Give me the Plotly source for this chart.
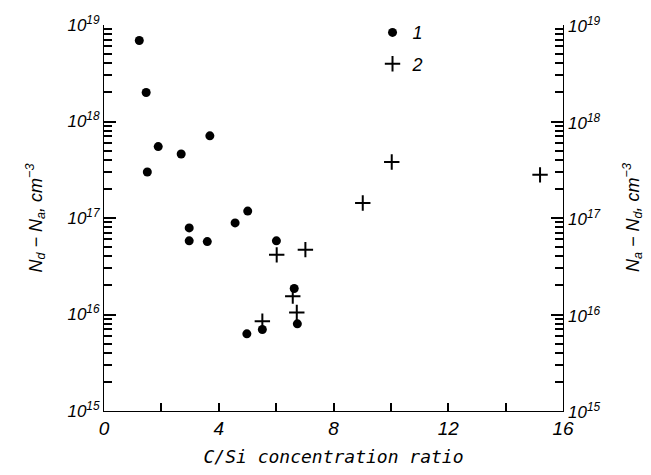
import math
import plotly.graph_objects as go

# Series 1 (filled dots): C/Si ratio vs Nd - Na
s1_x = [1.23, 1.47, 3.69, 1.89, 2.69, 1.51, 2.97, 2.97, 3.60, 4.57, 5.01, 6.01, 6.63, 6.74, 5.52, 4.98]
s1_y = [6.9e18, 2.0e18, 7.1e17, 5.5e17, 4.6e17, 3.0e17, 7.9e16, 5.8e16, 5.7e16, 8.9e16,
        1.18e17, 5.8e16, 1.86e16, 8.0e15, 7.0e15, 6.3e15]

# Series 2 (crosses): C/Si ratio vs Na - Nd
s2_x = [6.02, 7.02, 6.58, 6.72, 5.52, 9.02, 10.03, 15.2]
s2_y = [4.15e16, 4.7e16, 1.55e16, 1.05e16, 8.5e15, 1.43e17, 3.8e17, 2.8e17]

series_names = ["<i>1</i>", "<i>2</i>"]

x_tickvals = [0, 2, 4, 6, 8, 10, 12, 14, 16]
x_ticktext = ["<i>0</i>", "", "<i>4</i>", "", "<i>8</i>", "", "<i>12</i>", "", "<i>16</i>"]

y_major = [1e15, 1e16, 1e17, 1e18, 1e19]
y_major_text = ["<i>10<sup>15</sup></i>", "<i>10<sup>16</sup></i>", "<i>10<sup>17</sup></i>",
                "<i>10<sup>18</sup></i>", "<i>10<sup>19</sup></i>"]

FONT = "Liberation Sans"
MONO = "DejaVu Sans Mono"

fig = go.Figure()
fig.add_trace(go.Scatter(
    x=s1_x, y=s1_y, mode="markers", name=series_names[0],
    marker=dict(symbol="circle", size=9, color="black"),
    legendgroup="a",
))
fig.add_trace(go.Scatter(
    x=s2_x, y=s2_y, mode="markers", name=series_names[1],
    marker=dict(symbol="cross-thin", size=11, color="black",
                line=dict(color="black", width=2)),
    legendgroup="b",
))

# right-hand tick labels (mirror of the left axis)
annotations = [
    dict(x=1, xref="paper", y=math.log10(v), yref="y", text=t, showarrow=False,
         xanchor="left", yanchor="middle", xshift=3,
         font=dict(family=FONT, size=17, color="black"))
    for v, t in zip(y_major, y_major_text)
]
annotations.append(dict(
    x=1, xref="paper", y=0.5, yref="paper",
    text="<i>N<sub>a</sub> − N<sub>d</sub>, cm<sup>−3</sup></i>",
    showarrow=False, textangle=-90, xanchor="center", yanchor="middle", xshift=69,
    font=dict(family=FONT, size=18, color="black"),
))

fig.update_layout(
    width=651, height=475,
    margin=dict(l=104, r=88, t=25, b=62),
    plot_bgcolor="white",
    showlegend=True,
    legend=dict(
        x=0.585, y=1.028, xanchor="left", yanchor="top",
        bgcolor="rgba(0,0,0,0)",
        font=dict(family=FONT, size=18, color="black"),
        itemwidth=30, tracegroupgap=5, traceorder="grouped",
    ),
    xaxis=dict(
        range=[0, 16], tickmode="array", tickvals=x_tickvals, ticktext=x_ticktext,
        showline=True, linecolor="black",
        gridcolor="rgba(0,0,0,0)", zerolinecolor="rgba(0,0,0,0)",
        ticks="inside", ticklen=8, tickwidth=2, tickcolor="black",
        tickfont=dict(family=FONT, size=19, color="black"),
        title=dict(text="<i>C/Si concentration ratio</i>", standoff=12,
                   font=dict(family=MONO, size=18, color="black")),
    ),
    yaxis=dict(
        type="log", range=[15, 19], tickmode="array", tickvals=y_major, ticktext=y_major_text,
        showline=True, linecolor="black", gridcolor="rgba(0,0,0,0)",
        mirror="allticks",
        ticks="inside", ticklen=12, tickwidth=2, tickcolor="black",
        minor=dict(ticks="inside", ticklen=8, tickwidth=2, tickcolor="black", dtick="D1",
                   gridcolor="rgba(0,0,0,0)"),
        tickfont=dict(family=FONT, size=17, color="black"),
        title=dict(text="<i>N<sub>d</sub> − N<sub>a</sub>, cm<sup>−3</sup></i>", standoff=20,
                   font=dict(family=FONT, size=18, color="black")),
    ),
    annotations=annotations,
)

fig.write_html("out.html")
